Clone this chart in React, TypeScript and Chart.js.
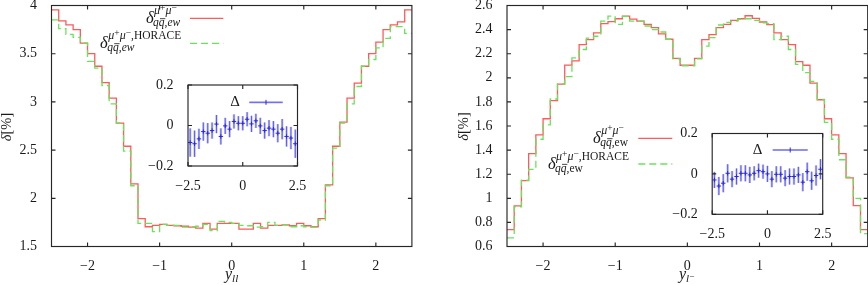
import React, { useEffect, useRef } from "react";
import { Chart, registerables } from "chart.js";
Chart.register(...registerables);

const FONT = '"Liberation Serif", "DejaVu Serif", serif';
const TEXT = "#1a1a1a";
const RED = "rgb(255,90,90)";
const GREEN = "rgb(105,228,90)";

// ---- data ----
const BIN_START = -2.5;
const BIN_WIDTH = 0.1;
const X_TICKS_MAIN = [-2, -1, 0, 1, 2];
const LEFT_Y_TICKS = [1.5, 2, 2.5, 3, 3.5, 4];
const RIGHT_Y_TICKS = [0.6, 0.8, 1, 1.2, 1.4, 1.6, 1.8, 2, 2.2, 2.4, 2.6];
const INSET_X_TICKS = [-2.5, 0, 2.5];
const INSET_Y_TICKS = [-0.2, 0, 0.2];
const INSET_CENTERS = [-2.4, -2.2, -2.0, -1.8, -1.6, -1.4, -1.2, -1.0, -0.8, -0.6, -0.4, -0.2, 0, 0.2, 0.4, 0.6, 0.8, 1.0, 1.2, 1.4, 1.6, 1.8, 2.0, 2.2, 2.4];

// y_ll distribution
const LEFT_RED = [
  3.955, 3.84, 3.8, 3.75, 3.61, 3.5, 3.37, 3.2, 3.04, 2.78,
  2.54, 2.15, 1.79, 1.705, 1.72, 1.73, 1.72, 1.715, 1.71, 1.7,
  1.69, 1.74, 1.68, 1.74, 1.74, 1.74, 1.68, 1.68, 1.74, 1.69,
  1.72, 1.72, 1.725, 1.715, 1.74, 1.715, 1.705, 1.79, 2.14, 2.54,
  2.79, 3.04, 3.195, 3.37, 3.5, 3.62, 3.75, 3.8, 3.83, 3.955,
];
const LEFT_GREEN = [
  3.85, 3.76, 3.7, 3.67, 3.61, 3.42, 3.35, 3.17, 2.98, 2.78,
  2.49, 2.13, 1.74, 1.74, 1.655, 1.73, 1.72, 1.72, 1.7, 1.705,
  1.71, 1.73, 1.665, 1.76, 1.75, 1.74, 1.72, 1.715, 1.7, 1.705,
  1.75, 1.72, 1.725, 1.705, 1.715, 1.705, 1.7, 1.775, 2.13, 2.52,
  2.78, 2.98, 3.16, 3.37, 3.44, 3.56, 3.66, 3.78, 3.78, 3.71,
];
// y_l- distribution
const RIGHT_RED = [
  0.74, 0.937, 1.146, 1.37, 1.527, 1.66, 1.81, 1.947, 2.106, 2.14,
  2.276, 2.317, 2.372, 2.449, 2.466, 2.49, 2.512, 2.487, 2.47, 2.444,
  2.416, 2.364, 2.32, 2.161, 2.104, 2.104, 2.161, 2.317, 2.358, 2.416,
  2.444, 2.477, 2.49, 2.515, 2.493, 2.463, 2.441, 2.372, 2.317, 2.276,
  2.134, 2.104, 1.955, 1.818, 1.66, 1.527, 1.37, 1.17, 0.94, 0.74,
];
const RIGHT_GREEN = [
  0.672, 0.93, 1.15, 1.24, 1.49, 1.61, 1.824, 1.95, 2.01, 2.166,
  2.235, 2.33, 2.345, 2.47, 2.512, 2.444, 2.51, 2.47, 2.47, 2.43,
  2.4, 2.38, 2.32, 2.157, 2.1, 2.1, 2.157, 2.263, 2.334, 2.438,
  2.46, 2.47, 2.486, 2.49, 2.477, 2.455, 2.45, 2.317, 2.345, 2.235,
  2.112, 2.043, 1.97, 1.82, 1.63, 1.49, 1.32, 1.175, 1.0, 0.707,
];
// insets: Delta with errors
const LEFT_DELTA = [
  -0.084, -0.09, -0.066, -0.03, -0.038, -0.025, 0.007, -0.054, -0.002, -0.018,
  0.02, 0.011, 0.011, 0.031, 0.008, 0.023, -0.002, -0.025, -0.013, -0.018,
  -0.038, -0.018, -0.054, -0.062, -0.09,
];
const LEFT_ERR = [
  0.07, 0.065, 0.05, 0.045, 0.05, 0.04, 0.045, 0.04, 0.04, 0.04,
  0.035, 0.035, 0.035, 0.035, 0.04, 0.035, 0.04, 0.04, 0.04, 0.04,
  0.045, 0.05, 0.05, 0.055, 0.07,
];
const RIGHT_DELTA = [
  -0.03, -0.06, -0.046, 0.003, -0.026, -0.013, 0.003, 0.003, -0.005, 0.003,
  0.016, 0.011, 0.0, -0.026, -0.002, -0.002, -0.021, -0.013, -0.013, -0.005,
  -0.041, 0.011, -0.034, -0.008, 0.023,
];
const RIGHT_ERR = [
  0.04, 0.045, 0.045, 0.045, 0.04, 0.04, 0.04, 0.04, 0.04, 0.035,
  0.035, 0.035, 0.04, 0.04, 0.04, 0.04, 0.04, 0.04, 0.04, 0.04,
  0.045, 0.045, 0.045, 0.05, 0.05,
];

// ---- helpers ----
type Run = { t: string; it?: boolean; s: number; dy?: number; bar?: boolean };

function fmt(v: number): string {
  const s = String(Math.round(v * 1000) / 1000);
  return s.replace("-", "\u2212");
}

function setFont(ctx: CanvasRenderingContext2D, r: Run) {
  ctx.font = `${r.it ? "italic " : ""}${r.s}px ${FONT}`;
}

function runsWidth(ctx: CanvasRenderingContext2D, runs: Run[]) {
  let w = 0;
  for (const r of runs) {
    setFont(ctx, r);
    w += ctx.measureText(r.t).width;
  }
  return w;
}

function drawRuns(ctx: CanvasRenderingContext2D, runs: Run[], x: number, y: number) {
  let cx = x;
  for (const r of runs) {
    setFont(ctx, r);
    const yy = y + (r.dy || 0);
    ctx.fillText(r.t, cx, yy);
    const w = ctx.measureText(r.t).width;
    if (r.bar) {
      ctx.save();
      ctx.lineWidth = 0.8;
      ctx.strokeStyle = ctx.fillStyle as string;
      ctx.beginPath();
      ctx.moveTo(cx + 1.2, yy - r.s * 0.62);
      ctx.lineTo(cx + w + 0.8, yy - r.s * 0.62);
      ctx.stroke();
      ctx.restore();
    }
    cx += w;
  }
  return cx - x;
}

function stepPoints(vals: number[]) {
  const pts: { x: number; y: number }[] = [];
  vals.forEach((v, i) => {
    const lo = BIN_START + i * BIN_WIDTH;
    pts.push({ x: lo, y: v }, { x: lo + BIN_WIDTH, y: v });
  });
  return pts;
}

const framePlugin = {
  id: "frame",
  afterDraw(chart: any) {
    const { ctx, chartArea: a, scales } = chart;
    const t = 4;
    ctx.save();
    ctx.strokeStyle = "#262626";
    ctx.lineWidth = 1.15;
    ctx.beginPath();
    scales.x.ticks.forEach((tk: any) => {
      const p = scales.x.getPixelForValue(tk.value);
      ctx.moveTo(p, a.bottom);
      ctx.lineTo(p, a.bottom - t);
      ctx.moveTo(p, a.top);
      ctx.lineTo(p, a.top + t);
    });
    scales.y.ticks.forEach((tk: any) => {
      const p = scales.y.getPixelForValue(tk.value);
      ctx.moveTo(a.left, p);
      ctx.lineTo(a.left + t, p);
      ctx.moveTo(a.right, p);
      ctx.lineTo(a.right - t, p);
    });
    ctx.stroke();
    ctx.strokeRect(a.left, a.top, a.right - a.left, a.bottom - a.top);
    ctx.restore();
  },
};

function axes(o: {
  xTicks: number[]; yTicks: number[]; xMin: number; xMax: number; yMin: number; yMax: number;
  yW: number; xH: number; xPad: number; yPad: number;
}) {
  const font = { family: FONT, size: 14 };
  return {
    x: {
      type: "linear",
      min: o.xMin,
      max: o.xMax,
      grid: { display: false },
      border: { display: false },
      afterBuildTicks: (s: any) => { s.ticks = o.xTicks.map((v) => ({ value: v })); },
      afterFit: (s: any) => { s.height = o.xH; s.paddingLeft = 0; s.paddingRight = 0; },
      ticks: { callback: (v: any) => fmt(Number(v)), font, color: TEXT, padding: o.xPad, maxRotation: 0, autoSkip: false },
    },
    y: {
      type: "linear",
      min: o.yMin,
      max: o.yMax,
      grid: { display: false },
      border: { display: false },
      afterBuildTicks: (s: any) => { s.ticks = o.yTicks.map((v) => ({ value: v })); },
      afterFit: (s: any) => { s.width = o.yW; s.paddingTop = 0; s.paddingBottom = 0; },
      ticks: { callback: (v: any) => fmt(Number(v)), font, color: TEXT, padding: o.yPad, autoSkip: false },
    },
  };
}

type MainSpec = {
  w: number; yW: number; padRight: number; yMin: number; yMax: number; yTicks: number[];
  red: number[]; green: number[]; ewItalic: boolean;
  xTitle: Run[]; xTitleX: number; xTitleY: number; yTitleX: number; yTitleY: number;
  lineX1: number; lineX2: number; textEnd: number; redB: number; greenB: number;
};

function mainConfig(sp: MainSpec): any {
  const sub: Run[] = [
    { t: "q", it: true, s: 11.5 },
    { t: "q", it: true, s: 11.5, bar: true },
    { t: ",", s: 11.5 },
    { t: "ew", it: sp.ewItalic, s: 11.5 },
  ];
  const supMM: Run[] = [
    { t: "\u03bc", it: true, s: 12 },
    { t: "+", s: 9.5, dy: -3 },
    { t: "\u03bc", it: true, s: 12 },
    { t: "\u2212", s: 9.5, dy: -3 },
  ];
  const supH: Run[] = [...supMM, { t: ",HORACE", s: 11.5 }];
  const delta: Run[] = [{ t: "\u03b4", it: true, s: 16.5 }];

  const textPlugin = {
    id: "texts",
    afterDraw(chart: any) {
      const ctx: CanvasRenderingContext2D = chart.ctx;
      ctx.save();
      ctx.fillStyle = TEXT;
      ctx.textBaseline = "alphabetic";
      ctx.textAlign = "left";
      // x title
      drawRuns(ctx, sp.xTitle, sp.xTitleX, sp.xTitleY);
      // y title rotated
      const yt: Run[] = [{ t: "\u03b4", it: true, s: 14.5 }, { t: "[%]", s: 14.5 }];
      const yw = runsWidth(ctx, yt);
      ctx.save();
      ctx.translate(sp.yTitleX, sp.yTitleY);
      ctx.rotate(-Math.PI / 2);
      ctx.textBaseline = "middle";
      drawRuns(ctx, yt, -yw / 2, 0);
      ctx.restore();
      // legend entries
      const entry = (sup: Run[], B: number, color: string, dash: number[]) => {
        const dw = runsWidth(ctx, delta);
        const sw = Math.max(runsWidth(ctx, sup), runsWidth(ctx, sub));
        const x0 = sp.textEnd - dw - sw;
        ctx.fillStyle = TEXT;
        drawRuns(ctx, delta, x0, B);
        drawRuns(ctx, sup, x0 + dw + 0.5, B - 9.5);
        drawRuns(ctx, sub, x0 + dw - 0.5, B + 2.5);
        ctx.save();
        ctx.strokeStyle = color;
        ctx.lineWidth = 1.3;
        ctx.setLineDash(dash);
        ctx.beginPath();
        ctx.moveTo(sp.lineX1, B - 5);
        ctx.lineTo(sp.lineX2, B - 5);
        ctx.stroke();
        ctx.restore();
      };
      entry(supMM, sp.redB, RED, []);
      entry(supH, sp.greenB, GREEN, [7, 4]);
      ctx.restore();
    },
  };

  return {
    type: "line",
    data: {
      datasets: [
        { label: "HORACE", data: stepPoints(sp.green), borderColor: GREEN, borderWidth: 1.3, borderDash: [7, 4], pointRadius: 0, fill: false, tension: 0 },
        { label: "ew", data: stepPoints(sp.red), borderColor: RED, borderWidth: 1.3, pointRadius: 0, fill: false, tension: 0 },
      ],
    },
    options: {
      animation: false,
      responsive: false,
      maintainAspectRatio: false,
      devicePixelRatio: 1,
      events: [],
      layout: { padding: { left: 0, top: 5.5, right: sp.padRight, bottom: 0 } },
      plugins: { legend: { display: false }, tooltip: { enabled: false }, title: { display: false } },
      scales: axes({
        xTicks: X_TICKS_MAIN, yTicks: sp.yTicks, xMin: -2.5, xMax: 2.5, yMin: sp.yMin, yMax: sp.yMax,
        yW: sp.yW, xH: 38.5, xPad: 3, yPad: 6.5,
      }),
    },
    plugins: [framePlugin, textPlugin],
  };
}

type InsetSpec = {
  yW: number; padRight: number; padTop: number; xH: number;
  vals: number[]; errs: number[];
  dX: number; dY: number; lx1: number; lx2: number; ly: number;
};

function insetConfig(sp: InsetSpec): any {
  const barPlugin = {
    id: "errbars",
    beforeDatasetsDraw(chart: any) {
      const { ctx, scales } = chart;
      const x = scales.x, y = scales.y;
      ctx.save();
      sp.vals.forEach((v, i) => {
        const px = x.getPixelForValue(INSET_CENTERS[i]);
        const p1 = y.getPixelForValue(v - sp.errs[i]);
        const p2 = y.getPixelForValue(v + sp.errs[i]);
        ctx.strokeStyle = "rgba(120,120,255,0.45)";
        ctx.lineWidth = 2.4;
        ctx.beginPath(); ctx.moveTo(px, p1); ctx.lineTo(px, p2); ctx.stroke();
        ctx.strokeStyle = "rgba(60,60,235,0.85)";
        ctx.lineWidth = 0.9;
        ctx.beginPath(); ctx.moveTo(px, p1); ctx.lineTo(px, p2); ctx.stroke();
      });
      // legend
      ctx.fillStyle = TEXT;
      ctx.font = `15px ${FONT}`;
      ctx.textAlign = "center";
      ctx.textBaseline = "middle";
      ctx.fillText("\u0394", sp.dX, sp.dY);
      ctx.strokeStyle = "rgba(120,120,255,0.45)";
      ctx.lineWidth = 2.2;
      ctx.beginPath(); ctx.moveTo(sp.lx1, sp.ly); ctx.lineTo(sp.lx2, sp.ly); ctx.stroke();
      ctx.strokeStyle = "rgba(60,60,235,0.85)";
      ctx.lineWidth = 0.9;
      ctx.beginPath(); ctx.moveTo(sp.lx1, sp.ly); ctx.lineTo(sp.lx2, sp.ly); ctx.stroke();
      const mx = (sp.lx1 + sp.lx2) / 2;
      ctx.strokeStyle = "rgb(40,40,225)";
      ctx.lineWidth = 1;
      ctx.beginPath(); ctx.moveTo(mx, sp.ly - 2.5); ctx.lineTo(mx, sp.ly + 2.5); ctx.stroke();
      ctx.restore();
    },
  };
  return {
    type: "scatter",
    data: {
      datasets: [
        {
          label: "\u0394",
          data: sp.vals.map((v, i) => ({ x: INSET_CENTERS[i], y: v })),
          pointStyle: "cross",
          pointRadius: 2.2,
          borderColor: "rgb(40,40,225)",
          backgroundColor: "rgb(40,40,225)",
          borderWidth: 1,
        },
      ],
    },
    options: {
      animation: false,
      responsive: false,
      maintainAspectRatio: false,
      devicePixelRatio: 1,
      events: [],
      layout: { padding: { left: 0, top: sp.padTop, right: sp.padRight, bottom: 0 } },
      plugins: { legend: { display: false }, tooltip: { enabled: false } },
      scales: axes({
        xTicks: INSET_X_TICKS, yTicks: INSET_Y_TICKS, xMin: -2.5, xMax: 2.5, yMin: -0.2, yMax: 0.2,
        yW: sp.yW, xH: sp.xH, xPad: 3.5, yPad: 6.5,
      }),
    },
    plugins: [barPlugin, framePlugin],
  };
}

const LEFT_SPEC: MainSpec = {
  w: 430, yW: 51.5, padRight: 18.1, yMin: 1.5, yMax: 4, yTicks: LEFT_Y_TICKS,
  red: LEFT_RED, green: LEFT_GREEN, ewItalic: true,
  xTitle: [{ t: "y", it: true, s: 16 }, { t: "ll", it: true, s: 11, dy: 2.5 }],
  xTitleX: 225, xTitleY: 279, yTitleX: 7, yTitleY: 127,
  lineX1: 190, lineX2: 223.3, textEnd: 180.7, redB: 23.3, greenB: 48.3,
};
const RIGHT_SPEC: MainSpec = {
  w: 428, yW: 67, padRight: 0.3, yMin: 0.6, yMax: 2.6, yTicks: RIGHT_Y_TICKS,
  red: RIGHT_RED, green: RIGHT_GREEN, ewItalic: false,
  xTitle: [{ t: "y", it: true, s: 16 }, { t: "l", it: true, s: 11, dy: 2.5 }, { t: "\u2212", s: 9, dy: 0 }],
  xTitleX: 239, xTitleY: 279, yTitleX: 24.5, yTitleY: 126.5,
  lineX1: 198.3, lineX2: 232.3, textEnd: 188.5, redB: 143.3, greenB: 169,
};
const LEFT_INSET: InsetSpec = {
  yW: 48, padRight: 12.5, padTop: 10, xH: 24, vals: LEFT_DELTA, errs: LEFT_ERR,
  dX: 95, dY: 27, lx1: 109.3, lx2: 142.7, ly: 27.3,
};
const RIGHT_INSET: InsetSpec = {
  yW: 52.2, padRight: 17.3, padTop: 10.5, xH: 23.7, vals: RIGHT_DELTA, errs: RIGHT_ERR,
  dX: 97.5, dY: 27, lx1: 112.7, lx2: 147.7, ly: 27,
};

export default function App() {
  const leftRef = useRef<HTMLCanvasElement>(null);
  const rightRef = useRef<HTMLCanvasElement>(null);
  const leftInsetRef = useRef<HTMLCanvasElement>(null);
  const rightInsetRef = useRef<HTMLCanvasElement>(null);

  useEffect(() => {
    const charts = [
      new Chart(leftRef.current!, mainConfig(LEFT_SPEC)),
      new Chart(rightRef.current!, mainConfig(RIGHT_SPEC)),
      new Chart(leftInsetRef.current!, insetConfig(LEFT_INSET)),
      new Chart(rightInsetRef.current!, insetConfig(RIGHT_INSET)),
    ];
    return () => charts.forEach((c) => c.destroy());
  }, []);

  const abs = (l: number, t: number, w: number, h: number): React.CSSProperties => ({
    position: "absolute", left: l, top: t, width: w, height: h, display: "block",
  });

  return (
    <div style={{ position: "absolute", left: 0, top: 0, width: 868, height: 285, background: "#fff", overflow: "hidden" }}>
      <canvas ref={leftRef} width={430} height={285} style={abs(0, 0, 430, 285)} />
      <canvas ref={rightRef} width={428} height={285} style={abs(440, 0, 428, 285)} />
      <canvas ref={leftInsetRef} width={170} height={115} style={abs(140, 75, 170, 115)} />
      <canvas ref={rightInsetRef} width={180} height={115} style={abs(660, 123, 180, 115)} />
    </div>
  );
}
